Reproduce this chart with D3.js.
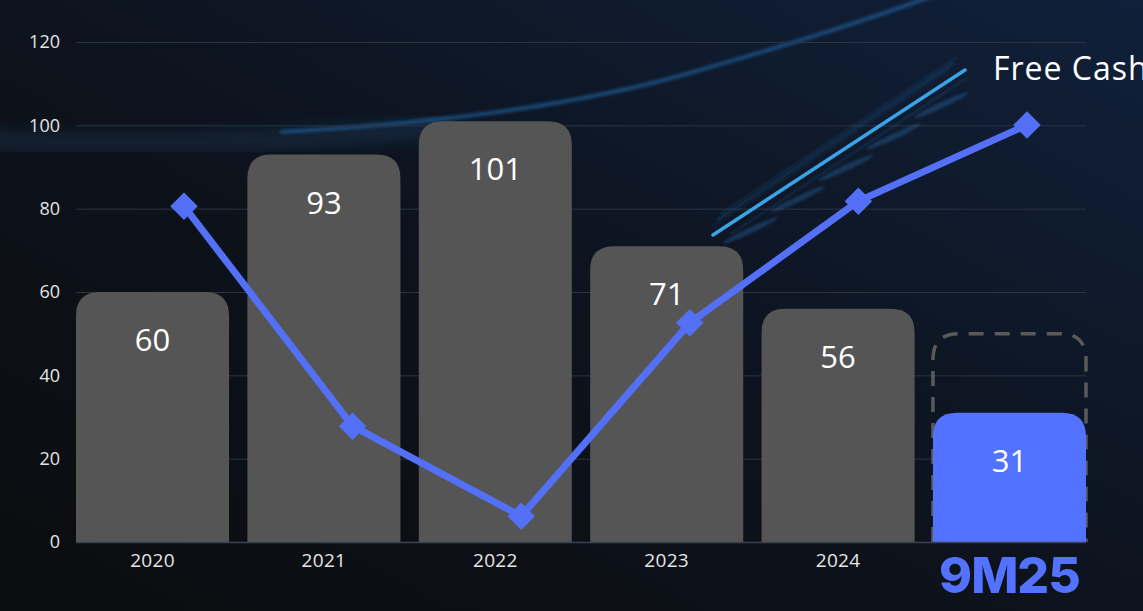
<!DOCTYPE html>
<html>
<head>
<meta charset="utf-8">
<script src="https://cdn.jsdelivr.net/npm/d3@7"></script>
<style>
  html, body { margin: 0; padding: 0; background: #0c0f15; overflow: hidden; }
  svg { display: block; }
</style>
</head>
<body>
<svg id="chart" width="1143" height="611"></svg>
<script>
// ---- data ----
const categories = ["2020", "2021", "2022", "2023", "2024", "9M25"];
const barValues = [60, 93, 101, 71, 56, 31];
const lineValues = [80.6, 27.8, 6.2, 52.6, 81.8, 100.1];
const targetValue = 50; // dashed outline for 9M25
const yTicks = [0, 20, 40, 60, 80, 100, 120];
const legendLabel = "Free Cash Flow";

// ---- setup ----
const W = 1143, H = 611;
const svg = d3.select("#chart");
const defs = svg.append("defs");

const bg = defs.append("linearGradient").attr("id", "bg")
  .attr("x1", "0%").attr("y1", "100%").attr("x2", "100%").attr("y2", "0%");
bg.append("stop").attr("offset", "0%").attr("stop-color", "#0b0c0f");
bg.append("stop").attr("offset", "45%").attr("stop-color", "#0d121b");
bg.append("stop").attr("offset", "100%").attr("stop-color", "#10203a");

defs.append("filter").attr("id", "blur6").attr("x", "-20%").attr("y", "-50%").attr("width", "140%").attr("height", "200%")
  .append("feGaussianBlur").attr("stdDeviation", 7);
defs.append("filter").attr("id", "blur2").attr("x", "-20%").attr("y", "-50%").attr("width", "140%").attr("height", "200%")
  .append("feGaussianBlur").attr("stdDeviation", 1.6);
defs.append("filter").attr("id", "blur1")
  .append("feGaussianBlur").attr("stdDeviation", 0.8);

svg.append("rect").attr("width", W).attr("height", H).attr("fill", "url(#bg)");

// background arc glow
svg.append("path")
  .attr("d", "M -20 140 Q 250 150 450 125")
  .attr("fill", "none").attr("stroke", "#174a78").attr("stroke-opacity", 0.25)
  .attr("stroke-width", 22).attr("filter", "url(#blur6)");
svg.append("path")
  .attr("d", "M 280 132 Q 540 118 700 70 Q 840 30 935 -5")
  .attr("fill", "none").attr("stroke", "#1d5d96").attr("stroke-opacity", 0.7)
  .attr("stroke-width", 4).attr("filter", "url(#blur2)");

// ---- scales ----
const x = d3.scaleBand().domain(categories).range([76, 1086]).paddingInner(0.107).paddingOuter(0);
const xLine = d3.scalePoint().domain(categories).range([184, 1027]);
const y = d3.scaleLinear().domain([0, 120]).range([542, 42]);

// ---- grid ----
svg.append("g").selectAll("line").data(yTicks.filter(d => d > 0)).join("line")
  .attr("x1", 76).attr("x2", 1086)
  .attr("y1", d => y(d) + 0.5).attr("y2", d => y(d) + 0.5)
  .attr("stroke", "#2b3542").attr("stroke-width", 1);

// y axis labels
const yAxis = d3.axisLeft(y).tickValues(yTicks).tickSize(0).tickPadding(16);
const gy = svg.append("g").attr("transform", "translate(76,0)").call(yAxis);
gy.select(".domain").remove();
gy.selectAll("text")
  .attr("font-family", "'Open Sans', sans-serif").attr("font-size", 18)
  .attr("fill", "#e4e4e4").attr("font-weight", 400);

// ---- bars ----
const r = 24;
function topRounded(x0, y0, w, h, rr) {
  rr = Math.min(rr, h, w / 2);
  return `M${x0},${y0 + h} V${y0 + rr} Q${x0},${y0} ${x0 + rr},${y0} H${x0 + w - rr} Q${x0 + w},${y0} ${x0 + w},${y0 + rr} V${y0 + h} Z`;
}
function topRoundedOpen(x0, y0, w, h, rr) {
  rr = Math.min(rr, h, w / 2);
  return `M${x0},${y0 + h} V${y0 + rr} Q${x0},${y0} ${x0 + rr},${y0} H${x0 + w - rr} Q${x0 + w},${y0} ${x0 + w},${y0 + rr} V${y0 + h}`;
}
const last = categories[categories.length - 1];

// dashed target outline (behind the bar)
svg.append("path")
  .attr("d", topRoundedOpen(x(last), y(targetValue), x.bandwidth(), y(0) - y(targetValue), r + 2))
  .attr("fill", "none").attr("stroke", "#5a5a5a").attr("stroke-width", 3.5)
  .attr("stroke-dasharray", "15 11");

svg.append("g").selectAll("path").data(categories).join("path")
  .attr("d", (c, i) => topRounded(x(c), y(barValues[i]), x.bandwidth(), y(0) - y(barValues[i]), r))
  .attr("fill", c => c === last ? "#5372ff" : "#555555");

// baseline
svg.append("line").attr("x1", 76).attr("x2", 1086).attr("y1", y(0) + 0.5).attr("y2", y(0) + 0.5)
  .attr("stroke", "#3c4350").attr("stroke-width", 1.5);

// value labels
svg.append("g").selectAll("text").data(categories).join("text")
  .attr("x", c => x(c) + x.bandwidth() / 2)
  .attr("y", (c, i) => y(barValues[i]) + 59)
  .attr("text-anchor", "middle")
  .attr("font-family", "'Open Sans', sans-serif").attr("font-size", 31).attr("font-weight", 400)
  .attr("fill", "#ffffff")
  .text((c, i) => barValues[i]);

// x labels
svg.append("g").selectAll("text").data(categories).join("text")
  .attr("x", c => x(c) + x.bandwidth() / 2)
  .attr("y", c => c === last ? 593 : 567)
  .attr("text-anchor", "middle")
  .attr("font-family", c => c === last ? "Inter, sans-serif" : "'Open Sans', sans-serif")
  .attr("font-size", c => c === last ? 50 : 19)
  .attr("font-weight", c => c === last ? 800 : 400)
  .attr("letter-spacing", c => c === last ? -1 : 0.3)
  .attr("fill", c => c === last ? "#5372ff" : "#e6e6e6")
  .text(c => c);

// ---- line ----
const lineGen = d3.line().x((d, i) => xLine(categories[i])).y(d => y(d));
svg.append("path").datum(lineValues)
  .attr("d", lineGen)
  .attr("fill", "none").attr("stroke", "#5370f7").attr("stroke-width", 7)
  .attr("stroke-linejoin", "round");

svg.append("g").selectAll("path").data(lineValues).join("path")
  .attr("transform", (d, i) => `translate(${xLine(categories[i])},${y(d)})`)
  .attr("d", d3.symbol(d3.symbolDiamond2, 480))
  .attr("fill", "#5370f7");

// ---- legend ----
const lg = svg.append("g");
const lx1 = 713, ly1 = 235, lx2 = 965, ly2 = 70;
[[-6, -10, 0.35, 1.5], [-3, -16, 0.3, 1.2], [8, 4, 0.25, 1.5], [-10, -4, 0.3, 1]].forEach(([dx, dy, op, sw]) => {
  lg.append("line")
    .attr("x1", lx1 + dx + 10).attr("y1", ly1 + dy - 5).attr("x2", lx2 + dx - 5).attr("y2", ly2 + dy + 3)
    .attr("stroke", "#2a78c0").attr("stroke-opacity", op).attr("stroke-width", sw).attr("filter", "url(#blur1)");
});
d3.range(5).forEach(k => {
  const t = 0.1 + k * 0.19;
  const cx = lx1 + (lx2 - lx1) * t + 12, cy = ly1 + (ly2 - ly1) * t + 12;
  lg.append("ellipse").attr("cx", cx).attr("cy", cy).attr("rx", 30).attr("ry", 3)
    .attr("transform", `rotate(-25 ${cx} ${cy})`)
    .attr("fill", "#2a6fb0").attr("fill-opacity", 0.35).attr("filter", "url(#blur1)");
});
lg.append("line").attr("x1", lx1).attr("y1", ly1).attr("x2", lx2).attr("y2", ly2)
  .attr("stroke", "#3aa3e6").attr("stroke-width", 3.5).attr("stroke-linecap", "round");
lg.append("text").attr("x", 993).attr("y", 80)
  .attr("font-family", "'Open Sans', sans-serif").attr("font-size", 32).attr("font-weight", 400)
  .attr("letter-spacing", 1)
  .attr("fill", "#ffffff").text(legendLabel);
</script>
</body>
</html>
